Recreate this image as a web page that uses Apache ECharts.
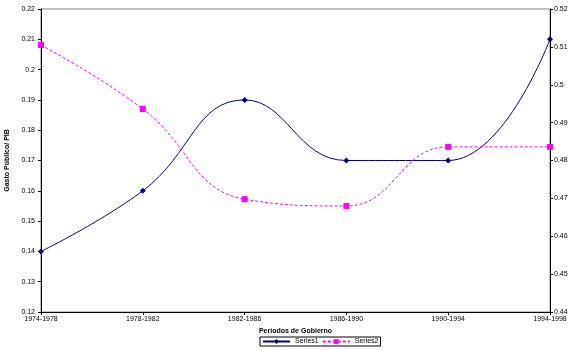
<!DOCTYPE html>
<html>
<head>
<meta charset="utf-8">
<script src="https://cdn.jsdelivr.net/npm/echarts@6/dist/echarts.min.js"></script>
<style>
  html, body { margin: 0; padding: 0; background: #fff; }
  #chart { width: 576px; height: 350px; }
</style>
</head>
<body>
<div id="chart"></div>
<script>
// periodos
const periodos = ["1974-1978", "1978-1982", "1982-1986", "1986-1990", "1990-1994", "1994-1998"];
const series1 = [0.14, 0.16, 0.19, 0.17, 0.17, 0.21];
const series2 = [0.5105, 0.4936, 0.4698, 0.468, 0.4836, 0.4836];

const fnt = "Liberation Sans, Arial, sans-serif";
const myChart = echarts.init(document.getElementById("chart"));

myChart.setOption({
    animation: false,
    grid: { left: 41, right: 26, top: 9, bottom: 38, containLabel: false, outerBoundsMode: "none",
        show: true, borderColor: "#808080", borderWidth: 1 },
    xAxis: {
        type: "category",
        data: periodos,
        boundaryGap: false,
        name: "Períodos de Gobierno",
        nameLocation: "middle",
        nameGap: 16,
        nameTextStyle: { fontFamily: fnt, fontSize: 7, fontWeight: "bold", color: "#000" },
        axisLine: { lineStyle: { color: "#000", width: 1 } },
        axisTick: { lineStyle: { color: "#000" }, length: 3 },
        axisLabel: { fontFamily: fnt, fontSize: 7, color: "#000", margin: 4 },
        splitLine: { show: false }
    },
    yAxis: [{
        type: "value",
        min: 0.12, max: 0.22, interval: 0.01,
        name: "Gasto Público/ PIB",
        nameLocation: "middle",
        nameGap: 27,
        nameTextStyle: { fontFamily: fnt, fontSize: 7, fontWeight: "bold", color: "#000" },
        axisLine: { show: true, lineStyle: { color: "#000", width: 1 } },
        axisTick: { show: true, lineStyle: { color: "#000" }, length: 3 },
        axisLabel: { fontFamily: fnt, fontSize: 7, color: "#000", margin: 6,
            formatter: v => String(+v.toFixed(2)) },
        splitLine: { show: false }
    }, {
        type: "value",
        position: "right",
        min: 0.44, max: 0.52, interval: 0.01,
        axisLine: { show: true, lineStyle: { color: "#000", width: 1 } },
        axisTick: { show: true, lineStyle: { color: "#000" }, length: 3 },
        axisLabel: { fontFamily: fnt, fontSize: 7, color: "#000", margin: 4,
            formatter: v => String(+v.toFixed(2)) },
        splitLine: { show: false }
    }],
    legend: {
        bottom: 4,
        left: 260,
        itemWidth: 27, itemHeight: 6, itemGap: 3,
        borderColor: "#000", borderWidth: 1, padding: [1, 2],
        textStyle: { fontFamily: fnt, fontSize: 7, color: "#000" },
        data: ["Series1", "Series2"]
    },
    series: [{
        name: "Series1",
        type: "line",
        data: series1,
        yAxisIndex: 0,
        smooth: 0.45,
        symbol: "diamond",
        symbolSize: 6,
        itemStyle: { color: "#000080" },
        lineStyle: { color: "#000080", width: 1 }
    }, {
        name: "Series2",
        type: "line",
        data: series2,
        yAxisIndex: 1,
        smooth: 0.45,
        symbol: "rect",
        symbolSize: 6,
        itemStyle: { color: "#FF00FF" },
        lineStyle: { color: "#FF00FF", width: 1, type: [3, 2] }
    }]
});
</script>
</body>
</html>
